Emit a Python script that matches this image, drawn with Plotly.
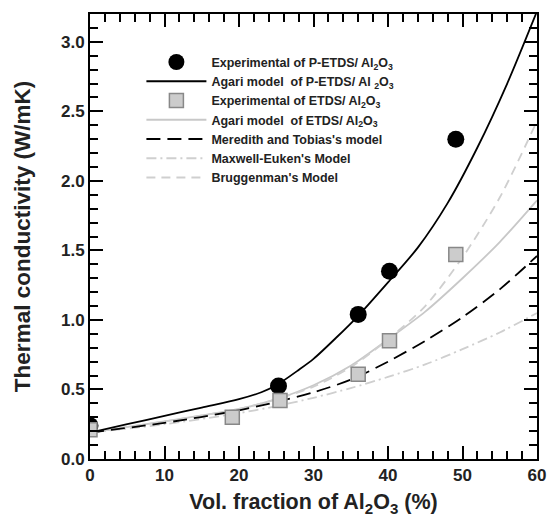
import plotly.graph_objects as go

# Experimental data
exp_p_x = [0, 25.3, 36.0, 40.2, 49.1]
exp_p_y = [0.24, 0.525, 1.04, 1.35, 2.30]
exp_e_x = [0, 19.1, 25.5, 36.0, 40.2, 49.1]
exp_e_y = [0.21, 0.30, 0.42, 0.61, 0.85, 1.47]

# Model curves
agari_p_x = [0, 5, 10, 15, 20, 23, 25, 28, 30, 33, 36, 40, 44, 48, 52, 56, 60]
agari_p_y = [0.19, 0.25, 0.31, 0.37, 0.43, 0.48, 0.53, 0.64, 0.72, 0.87, 1.03, 1.27, 1.52, 1.84, 2.24, 2.70, 3.22]
agari_e_x = [0, 10, 20, 25, 30, 35, 40, 45, 50, 55, 60]
agari_e_y = [0.19, 0.27, 0.36, 0.43, 0.53, 0.67, 0.86, 1.06, 1.30, 1.56, 1.86]
mered_x = [0, 10, 20, 25, 30, 35, 40, 45, 50, 55, 60]
mered_y = [0.19, 0.26, 0.35, 0.41, 0.48, 0.57, 0.70, 0.85, 1.02, 1.22, 1.46]
maxw_x = [0, 10, 20, 25, 30, 35, 40, 45, 50, 55, 60]
maxw_y = [0.19, 0.25, 0.33, 0.38, 0.44, 0.51, 0.59, 0.68, 0.79, 0.91, 1.05]
brug_x = [0, 10, 20, 25, 30, 35, 40, 45, 50, 55, 60]
brug_y = [0.19, 0.27, 0.36, 0.43, 0.52, 0.66, 0.86, 1.10, 1.45, 1.88, 2.43]

AL = "Al<sub>2</sub>O<sub>3</sub>"
names = [
    "Experimental of P-ETDS/ " + AL,
    "Agari model  of P-ETDS/ Al <sub>2</sub>O<sub>3</sub>",
    "Experimental of ETDS/ " + AL,
    "Agari model  of ETDS/ " + AL,
    "Meredith and Tobias's model",
    "Maxwell-Euken's Model",
    "Bruggenman's Model",
]

fig = go.Figure()
fig.add_trace(go.Scatter(x=agari_e_x, y=agari_e_y, mode="lines", name=names[3],
                         line=dict(color="#c8c8c8", width=1.8, shape="spline", smoothing=0.8), legendrank=4))
fig.add_trace(go.Scatter(x=brug_x, y=brug_y, mode="lines", name=names[6],
                         line=dict(color="#cfcfcf", width=1.8, dash="9px,6px", shape="spline", smoothing=0.8), legendrank=7))
fig.add_trace(go.Scatter(x=maxw_x, y=maxw_y, mode="lines", name=names[5],
                         line=dict(color="#cfcfcf", width=1.8, dash="10px,4px,2px,4px", shape="spline", smoothing=0.8), legendrank=6))
fig.add_trace(go.Scatter(x=mered_x, y=mered_y, mode="lines", name=names[4],
                         line=dict(color="black", width=1.8, dash="14px,7px", shape="spline", smoothing=0.8), legendrank=5))
fig.add_trace(go.Scatter(x=agari_p_x, y=agari_p_y, mode="lines", name=names[1],
                         line=dict(color="black", width=1.8, shape="spline", smoothing=0.8), legendrank=2))
fig.add_trace(go.Scatter(x=exp_p_x, y=exp_p_y, mode="markers", name=names[0],
                         marker=dict(symbol="circle", size=17, color="black"), legendrank=1))
fig.add_trace(go.Scatter(x=exp_e_x, y=exp_e_y, mode="markers", name=names[2],
                         marker=dict(symbol="square", size=14, color="#cccccc",
                                     line=dict(color="#888888", width=1.5)), legendrank=3))

axis_common = dict(
    showline=True, linecolor="black", linewidth=2, mirror="ticks",
    ticks="inside", ticklen=13, tickwidth=2, tickcolor="black",
    showgrid=False, zeroline=False, automargin=False,
    tickfont=dict(family="Liberation Sans", size=17, color="#222", weight="bold"),
)
fig.update_xaxes(range=[0, 60], dtick=10, tick0=0,
                 minor=dict(dtick=2, ticks="inside", ticklen=8, tickwidth=1.5, tickcolor="black"),
                 title=dict(text="Vol. fraction of Al<sub>2</sub>O<sub>3</sub> (%)",
                            font=dict(family="Liberation Sans", size=21.5, color="#222", weight="bold"),
                            standoff=10),
                 **axis_common)
fig.update_yaxes(range=[0, 3.2], dtick=0.5, tick0=0, tickformat=".1f",
                 minor=dict(dtick=0.1, ticks="inside", ticklen=8, tickwidth=1.5, tickcolor="black"),
                 title=dict(text="Thermal conductivity (W/mK)",
                            font=dict(family="Liberation Sans", size=22.5, color="#222", weight="bold"),
                            standoff=24),
                 **axis_common)

fig.update_layout(
    width=547, height=522,
    margin=dict(l=90, r=10, t=14, b=63),
    paper_bgcolor="white", plot_bgcolor="white",
    showlegend=True,
    legend=dict(x=0.115, y=0.925, xanchor="left", yanchor="top",
                bgcolor="rgba(0,0,0,0)", tracegroupgap=0,
                font=dict(family="Liberation Sans", size=12.5, color="#222", weight="bold"),
                itemwidth=60),
)

fig.write_html("out.html")
